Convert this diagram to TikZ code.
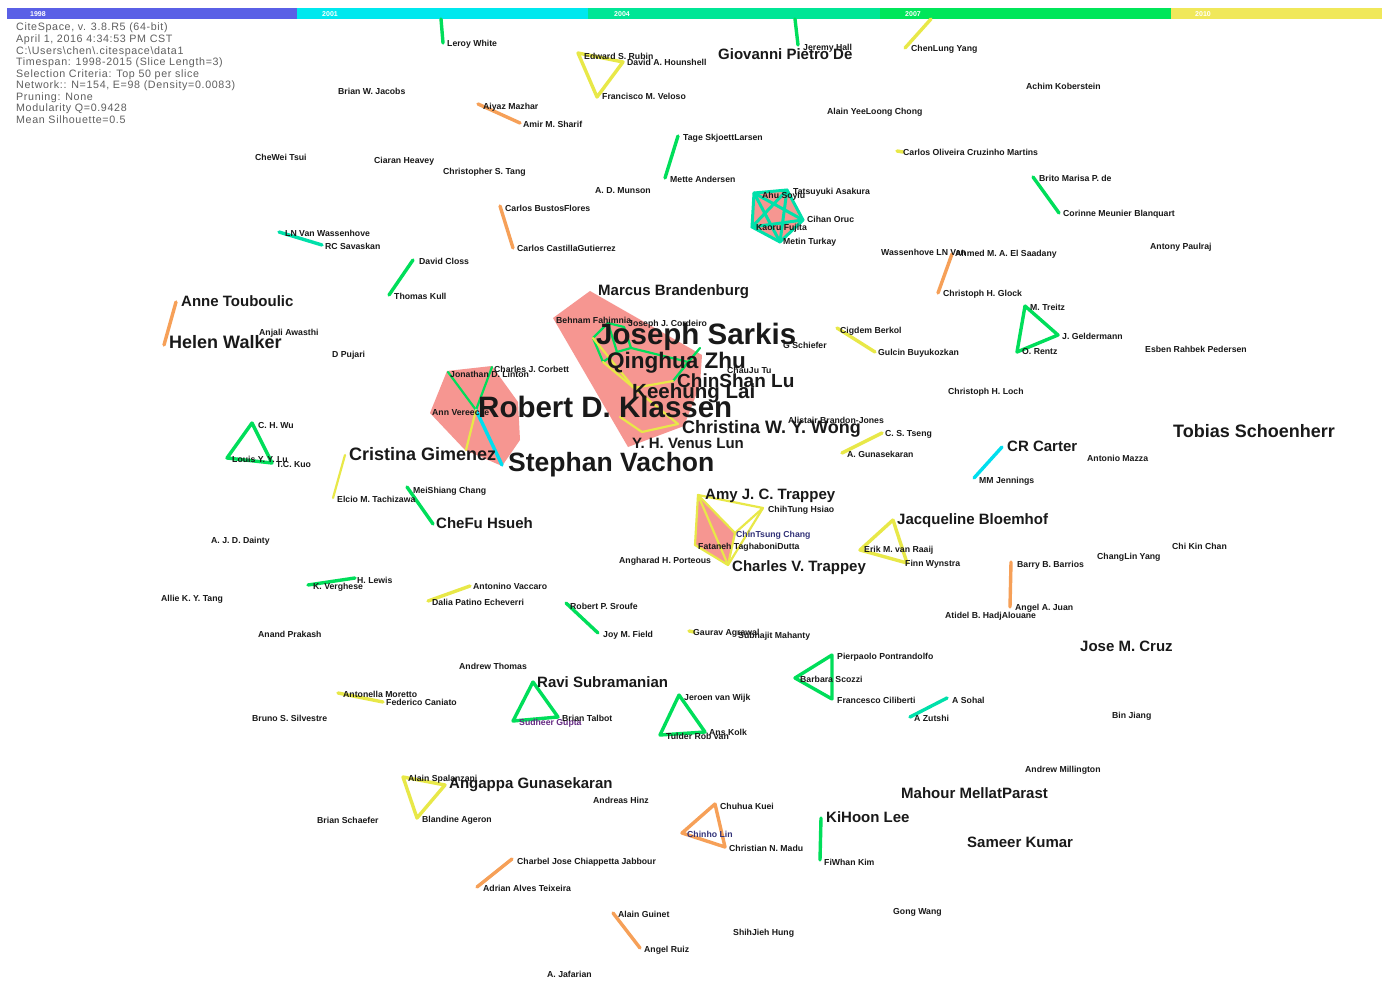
\documentclass[tikz,border=0pt]{standalone}
\usepackage{fontspec}
\setmainfont{Liberation Sans}
\newfontfamily\infofont[LetterSpace=6]{Liberation Sans}
\definecolor{barA}{RGB}{90,96,230}
\definecolor{barB}{RGB}{0,232,238}
\definecolor{barC}{RGB}{0,230,150}
\definecolor{barD}{RGB}{0,230,90}
\definecolor{barE}{RGB}{240,232,90}
\definecolor{cg}{RGB}{0,222,90}
\definecolor{cy}{RGB}{232,232,72}
\definecolor{co}{RGB}{246,160,88}
\definecolor{cc}{RGB}{0,222,238}
\definecolor{ct}{RGB}{0,224,170}
\definecolor{hullpink}{RGB}{246,150,145}
\definecolor{lbl}{RGB}{25,25,25}
\definecolor{infogray}{RGB}{95,95,95}
\definecolor{navyl}{RGB}{50,50,120}
\definecolor{purpl}{RGB}{100,40,130}
\begin{document}
\begin{tikzpicture}[x=1pt,y=-1pt,
  sl/.style={inner sep=0pt, anchor=west, text depth=0pt, text height=6.3pt, font=\bfseries\fontsize{8.7}{9}\selectfont, text=lbl},
  ml/.style={inner sep=0pt, anchor=west, text depth=0pt, text height=10.8pt, font=\bfseries\fontsize{15}{16}\selectfont, text=lbl},
  hA/.style={inner sep=0pt, anchor=west, text depth=0pt, text height=13pt, font=\bfseries\fontsize{18}{19}\selectfont, text=lbl},
  hB/.style={inner sep=0pt, anchor=west, text depth=0pt, text height=13.7pt, font=\bfseries\fontsize{19}{20}\selectfont, text=lbl},
  hC/.style={inner sep=0pt, anchor=west, text depth=0pt, text height=14.8pt, font=\bfseries\fontsize{20.5}{21}\selectfont, text=lbl},
  hD/.style={inner sep=0pt, anchor=west, text depth=0pt, text height=16.2pt, font=\bfseries\fontsize{22.5}{23}\selectfont, text=lbl},
  hE/.style={inner sep=0pt, anchor=west, text depth=0pt, text height=19.1pt, font=\bfseries\fontsize{26.5}{27}\selectfont, text=lbl},
  hF/.style={inner sep=0pt, anchor=west, text depth=0pt, text height=21.2pt, font=\bfseries\fontsize{29.5}{30}\selectfont, text=lbl},
  info/.style={inner sep=0pt, anchor=west, text depth=0pt, text height=7.7pt, font=\infofont\fontsize{10.7}{11}\selectfont, text=infogray},
  yr/.style={inner sep=0pt, font=\bfseries\fontsize{7}{7}\selectfont, text=white},
  ed/.style={line width=3.4pt, line cap=round, line join=round},
  eg/.style={ed, draw=cg}, ey/.style={ed, draw=cy}, eo/.style={ed, draw=co},
  ec/.style={ed, draw=cc}, et/.style={ed, draw=ct},
  thin2/.style={line width=2.2pt}
]
\useasboundingbox (0,0) rectangle (1387,981);
\fill[white] (0,0) rectangle (1387,981);

% ---------- time bar ----------
\fill[barA] (7,8) rectangle (297,19);
\fill[barB] (297,8) rectangle (588,19);
\fill[barC] (588,8) rectangle (880,19);
\fill[barD] (880,8) rectangle (1171,19);
\fill[barE] (1171,8) rectangle (1382,19);
\node[yr] (y1998) at (38,14) {1998};
\node[yr] (y2001) at (330,14) {2001};
\node[yr] (y2004) at (622,14) {2004};
\node[yr] (y2007) at (913,14) {2007};
\node[yr] (y2010) at (1203,14) {2010};

% ---------- info ----------
\node[info] (i1) at (16,27) {CiteSpace, v. 3.8.R5 (64-bit)};
\node[info] (i2) at (16,39) {April 1, 2016 4:34:53 PM CST};
\node[info] (i3) at (16,51) {C:\textbackslash Users\textbackslash chen\textbackslash .citespace\textbackslash data1};
\node[info] (i4) at (16,62) {Timespan: 1998-2015 (Slice Length=3)};
\node[info] (i5) at (16,74) {Selection Criteria: Top 50 per slice};
\node[info] (i6) at (16,85) {Network:: N=154, E=98 (Density=0.0083)};
\node[info] (i7) at (16,97) {Pruning: None};
\node[info] (i8) at (16,108) {Modularity Q=0.9428};
\node[info] (i9) at (16,120) {Mean Silhouette=0.5};

% ---------- coordinates ----------
\coordinate (pLeroyTop) at (441,19); \coordinate (pLeroy) at (443,43);
\coordinate (pRubin) at (578,53); \coordinate (pHouns) at (623,62); \coordinate (pVeloso) at (597,97);
\coordinate (pHallTop) at (795,19); \coordinate (pHall) at (798,45);
\coordinate (pClyTop) at (931,19); \coordinate (pCly) at (905,48);
\coordinate (pMazhar) at (478,104); \coordinate (pSharif) at (520,123);
\coordinate (pTage) at (678,136); \coordinate (pMette) at (665,178);
\coordinate (pBustos) at (500,206); \coordinate (pCastilla) at (513,248);
\coordinate (pOliv) at (897,151); \coordinate (pOlivB) at (903,152);
\coordinate (pBrito) at (1033,177); \coordinate (pCorinne) at (1059,213);
\coordinate (pLnvw) at (279,232); \coordinate (pSava) at (322,245);
\coordinate (pCloss) at (413,260); \coordinate (pKull) at (389,295);
\coordinate (pAnne) at (176,302); \coordinate (pHelen) at (164,345);
\coordinate (pSaadany) at (952,254); \coordinate (pGlock) at (938,293);
\coordinate (pTreitz) at (1025,306); \coordinate (pGelder) at (1058,335); \coordinate (pRentz) at (1017,352);
\coordinate (pCigdem) at (837,328); \coordinate (pGulcin) at (875,352);
\coordinate (pWu) at (252,423); \coordinate (pLu) at (227,458); \coordinate (pKuo) at (272,463);
\coordinate (pGimenez) at (345,455); \coordinate (pTachi) at (333,498);
\coordinate (pMeish) at (407,487); \coordinate (pChefu) at (433,524);
\coordinate (pTseng) at (882,433); \coordinate (pAgun) at (842,453);
\coordinate (pCarter) at (1002,447); \coordinate (pJennings) at (974,478);
\coordinate (pAmy) at (698,495); \coordinate (pHsiao) at (763,508); \coordinate (pCtchang) at (735,533);
\coordinate (pFataneh) at (695,545); \coordinate (pCtrap) at (728,565);
\coordinate (pJacq) at (893,520); \coordinate (pRaaij) at (860,550); \coordinate (pWynstra) at (907,563);
\coordinate (pBarrios) at (1011,562); \coordinate (pJuan) at (1010,607);
\coordinate (pLewis) at (355,578); \coordinate (pVergh) at (308,585);
\coordinate (pVaccaro) at (470,586); \coordinate (pDalia) at (428,601);
\coordinate (pSroufe) at (566,603); \coordinate (pField) at (598,633);
\coordinate (pAgrawal) at (689,631); \coordinate (pAgrawalB) at (694,632);
\coordinate (pMoretto) at (338,693); \coordinate (pCaniato) at (383,702);
\coordinate (pRavi) at (533,682); \coordinate (pGupta) at (513,721); \coordinate (pTalbot) at (558,717);
\coordinate (pJeroen) at (679,695); \coordinate (pTulder) at (660,735); \coordinate (pKolk) at (705,732);
\coordinate (pPierp) at (832,655); \coordinate (pScozzi) at (795,678); \coordinate (pCilib) at (832,699);
\coordinate (pSohal) at (947,698); \coordinate (pZutshi) at (910,717);
\coordinate (pSpal) at (403,777); \coordinate (pAngappa) at (445,785); \coordinate (pAgeron) at (417,818);
\coordinate (pKuei) at (715,804); \coordinate (pChinho) at (682,833); \coordinate (pMadu) at (725,847);
\coordinate (pKihoon) at (821,818); \coordinate (pFiwhan) at (820,860);
\coordinate (pJabbour) at (512,859); \coordinate (pTeixeira) at (477,887);
\coordinate (pGuinet) at (613,913); \coordinate (pRuiz) at (640,948);
% teal cluster
\coordinate (pT1) at (754,193); \coordinate (pT2) at (787,190); \coordinate (pT3) at (803,220);
\coordinate (pT4) at (780,242); \coordinate (pT5) at (752,227);
% Klassen cluster
\coordinate (pLinton) at (448,372); \coordinate (pCorbett) at (492,367); \coordinate (pKlassen) at (476,410);
\coordinate (pVachon) at (502,465); \coordinate (pKG) at (466,450); \coordinate (pAnnV) at (432,412);
% Sarkis cluster
\coordinate (pS1) at (593,338); \coordinate (pS2) at (608,323); \coordinate (pS3) at (624,327);
\coordinate (pS4) at (631,348); \coordinate (pS5) at (603,362); \coordinate (pS6) at (617,352);
\coordinate (pS7) at (673,381); \coordinate (pS8) at (688,362); \coordinate (pS9) at (700,348);
\coordinate (pS10) at (634,388); \coordinate (pS11) at (678,424); \coordinate (pS12) at (620,417);
\coordinate (pS13) at (642,432);

% ---------- hulls ----------
\fill[hullpink] (553,318) -- (590,291) -- (702,355) -- (700,385) -- (684,426) -- (628,447) -- cycle;
\fill[hullpink] (447,371) -- (492,366) -- (518,402) -- (520,440) -- (502,466) -- (465,450) -- (430,413) -- cycle;
\fill[hullpink] (pT1) -- (pT2) -- (pT3) -- (pT4) -- (pT5) -- cycle;
\fill[hullpink] (pAmy) -- (pCtchang) -- (pCtrap) -- (pFataneh) -- cycle;

% ---------- edges ----------
\draw[eg] (pLeroyTop) -- (pLeroy);
\draw[ey] (pRubin) -- (pVeloso) -- (pHouns) -- (pRubin);
\draw[eg] (pHallTop) -- (pHall);
\draw[ey] (pClyTop) -- (pCly);
\draw[eo] (pMazhar) -- (pSharif);
\draw[eg] (pTage) -- (pMette);
\draw[eo] (pBustos) -- (pCastilla);
\draw[ey] (pOliv) -- (pOlivB);
\draw[eg] (pBrito) -- (pCorinne);
\draw[et] (pLnvw) -- (pSava);
\draw[eg] (pCloss) -- (pKull);
\draw[eo] (pAnne) -- (pHelen);
\draw[eo] (pSaadany) -- (pGlock);
\draw[eg] (pTreitz) -- (pGelder) -- (pRentz) -- (pTreitz);
\draw[ey] (pCigdem) -- (pGulcin);
\draw[eg] (pWu) -- (pLu) -- (pKuo) -- (pWu);
\draw[ey, thin2] (pGimenez) -- (pTachi);
\draw[eg] (pMeish) -- (pChefu);
\draw[ey] (pTseng) -- (pAgun);
\draw[ec] (pCarter) -- (pJennings);
\draw[ey, thin2] (pAmy) -- (pHsiao) -- (pCtchang) -- (pAmy);
\draw[ey, thin2] (pAmy) -- (pFataneh) -- (pCtrap) -- (pAmy);
\draw[ey, thin2] (pCtchang) -- (pCtrap);
\draw[ey, thin2] (pHsiao) -- (pCtrap);
\draw[ey] (pJacq) -- (pRaaij) -- (pWynstra) -- (pJacq);
\draw[eo] (pBarrios) -- (pJuan);
\draw[eg] (pLewis) -- (pVergh);
\draw[ey] (pVaccaro) -- (pDalia);
\draw[eg] (pSroufe) -- (pField);
\draw[ey] (pAgrawal) -- (pAgrawalB);
\draw[ey] (pMoretto) -- (pCaniato);
\draw[eg] (pRavi) -- (pGupta) -- (pTalbot) -- (pRavi);
\draw[eg] (pJeroen) -- (pTulder) -- (pKolk) -- (pJeroen);
\draw[eg] (pPierp) -- (pScozzi) -- (pCilib) -- (pPierp);
\draw[et] (pSohal) -- (pZutshi);
\draw[ey] (pSpal) -- (pAgeron) -- (pAngappa) -- (pSpal);
\draw[eo] (pKuei) -- (pChinho) -- (pMadu) -- (pKuei);
\draw[eg] (pKihoon) -- (pFiwhan);
\draw[eo] (pJabbour) -- (pTeixeira);
\draw[eo] (pGuinet) -- (pRuiz);
% teal K5
\draw[et, line width=3pt] (pT1) -- (pT2) -- (pT3) -- (pT4) -- (pT5) -- cycle;
\draw[et, line width=3pt] (pT1) -- (pT3) -- (pT5) -- (pT2) -- (pT4) -- cycle;
% Klassen cluster
\draw[eg, thin2] (pLinton) -- (pKlassen);
\draw[eg, thin2] (pCorbett) -- (pKlassen);
\draw[ec] (pKlassen) -- (pVachon);
\draw[ey, thin2] (pKlassen) -- (pKG);
% Sarkis cluster
\draw[eg, thin2] (pS1) -- (pS2) -- (pS3) -- (pS4) -- (pS6) -- (pS5) -- (pS1);
\draw[eg, thin2] (pS2) -- (pS6);
\draw[eg, thin2] (pS4) -- (pS8);
\draw[eg, thin2] (pS7) -- (pS8) -- (pS9) -- (pS7);
\draw[ey, thin2] (pS1) -- (pS10) -- (pS11);
\draw[ey, thin2] (pS5) -- (pS10) -- (pS7);
\draw[ey, thin2] (pS12) -- (pS13) -- (pS11);

% ---------- small labels ----------
\node[sl] (leroy) at (447,43) {Leroy White};
\node[sl] (rubin) at (584,56) {Edward S. Rubin};
\node[sl] (houns) at (627,62) {David A. Hounshell};
\node[sl] (veloso) at (602,96) {Francisco M. Veloso};
\node[sl] (hall) at (803,47) {Jeremy Hall};
\node[sl] (cly) at (911,48) {ChenLung Yang};
\node[sl] (jacobs) at (338,91) {Brian W. Jacobs};
\node[sl] (mazhar) at (483,106) {Aiyaz Mazhar};
\node[sl] (sharif) at (523,124) {Amir M. Sharif};
\node[sl] (chong) at (827,111) {Alain YeeLoong Chong};
\node[sl] (kober) at (1026,86) {Achim Koberstein};
\node[sl] (tsui) at (255,157) {CheWei Tsui};
\node[sl] (heavey) at (374,160) {Ciaran Heavey};
\node[sl] (stang) at (443,171) {Christopher S. Tang};
\node[sl] (tage) at (683,137) {Tage SkjoettLarsen};
\node[sl] (mette) at (670,179) {Mette Andersen};
\node[sl] (munson) at (595,190) {A. D. Munson};
\node[sl] (oliv) at (903,152) {Carlos Oliveira Cruzinho Martins};
\node[sl] (brito) at (1039,178) {Brito Marisa P. de};
\node[sl] (corinne) at (1063,213) {Corinne Meunier Blanquart};
\node[sl] (ahu) at (762,195) {Ahu Soylu};
\node[sl] (asakura) at (793,191) {Tatsuyuki Asakura};
\node[sl] (oruc) at (807,219) {Cihan Oruc};
\node[sl] (fujita) at (756,227) {Kaoru Fujita};
\node[sl] (turkay) at (783,241) {Metin Turkay};
\node[sl] (lnvw) at (285,233) {LN Van Wassenhove};
\node[sl] (sava) at (325,246) {RC Savaskan};
\node[sl] (bustos) at (505,208) {Carlos BustosFlores};
\node[sl] (castilla) at (517,248) {Carlos CastillaGutierrez};
\node[sl] (wass) at (881,252) {Wassenhove LN Van};
\node[sl] (saadany) at (955,253) {Ahmed M. A. El Saadany};
\node[sl] (antony) at (1150,246) {Antony Paulraj};
\node[sl] (closs) at (419,261) {David Closs};
\node[sl] (kull) at (394,296) {Thomas Kull};
\node[sl] (glock) at (943,293) {Christoph H. Glock};
\node[sl] (treitz) at (1030,307) {M. Treitz};
\node[sl] (gelder) at (1062,336) {J. Geldermann};
\node[sl] (rentz) at (1022,351) {O. Rentz};
\node[sl] (esben) at (1145,349) {Esben Rahbek Pedersen};
\node[sl] (anjali) at (259,332) {Anjali Awasthi};
\node[sl] (pujari) at (332,354) {D Pujari};
\node[sl] (fahim) at (556,320) {Behnam Fahimnia};
\node[sl] (cordeiro) at (628,323) {Joseph J. Cordeiro};
\node[sl] (schiefer) at (783,345) {G Schiefer};
\node[sl] (tu) at (727,370) {ChauJu Tu};
\node[sl] (cigdem) at (840,330) {Cigdem Berkol};
\node[sl] (gulcin) at (878,352) {Gulcin Buyukozkan};
\node[sl] (corbett) at (494,369) {Charles J. Corbett};
\node[sl] (linton) at (450,374) {Jonathan D. Linton};
\node[sl] (annv) at (432,412) {Ann Vereecke};
\node[sl] (loch) at (948,391) {Christoph H. Loch};
\node[sl] (alistair) at (788,420) {Alistair Brandon-Jones};
\node[sl] (tseng) at (885,433) {C. S. Tseng};
\node[sl] (agun) at (847,454) {A. Gunasekaran};
\node[sl] (wu) at (258,425) {C. H. Wu};
\node[sl] (lu) at (232,459) {Louis Y. Y. Lu};
\node[sl] (kuo) at (276,464) {T.C. Kuo};
\node[sl] (mazza) at (1087,458) {Antonio Mazza};
\node[sl] (jennings) at (979,480) {MM Jennings};
\node[sl] (meish) at (413,490) {MeiShiang Chang};
\node[sl] (tachi) at (337,499) {Elcio M. Tachizawa};
\node[sl] (hsiao) at (768,509) {ChihTung Hsiao};
\node[sl, text=navyl] (ctchang) at (736,534) {ChinTsung Chang};
\node[sl] (fataneh) at (698,546) {Fataneh TaghaboniDutta};
\node[sl] (porteous) at (619,560) {Angharad H. Porteous};
\node[sl] (raaij) at (864,549) {Erik M. van Raaij};
\node[sl] (wynstra) at (905,563) {Finn Wynstra};
\node[sl] (dainty) at (211,540) {A. J. D. Dainty};
\node[sl] (chan) at (1172,546) {Chi Kin Chan};
\node[sl] (clyang) at (1097,556) {ChangLin Yang};
\node[sl] (barrios) at (1017,564) {Barry B. Barrios};
\node[sl] (juan) at (1015,607) {Angel A. Juan};
\node[sl] (hadj) at (945,615) {Atidel B. HadjAlouane};
\node[sl] (lewis) at (357,580) {H. Lewis};
\node[sl] (vergh) at (313,586) {K. Verghese};
\node[sl] (atang) at (161,598) {Allie K. Y. Tang};
\node[sl] (vaccaro) at (473,586) {Antonino Vaccaro};
\node[sl] (dalia) at (432,602) {Dalia Patino Echeverri};
\node[sl] (sroufe) at (570,606) {Robert P. Sroufe};
\node[sl] (field) at (603,634) {Joy M. Field};
\node[sl] (agrawal) at (693,632) {Gaurav Agrawal};
\node[sl] (mahanty) at (738,635) {Subhajit Mahanty};
\node[sl] (prakash) at (258,634) {Anand Prakash};
\node[sl] (athomas) at (459,666) {Andrew Thomas};
\node[sl] (pierp) at (837,656) {Pierpaolo Pontrandolfo};
\node[sl] (scozzi) at (800,679) {Barbara Scozzi};
\node[sl] (cilib) at (837,700) {Francesco Ciliberti};
\node[sl] (jeroen) at (684,697) {Jeroen van Wijk};
\node[sl] (tulder) at (666,736) {Tulder Rob van};
\node[sl] (kolk) at (709,732) {Ans Kolk};
\node[sl, text=purpl] (gupta) at (519,722) {Sudheer Gupta};
\node[sl] (talbot) at (562,718) {Brian Talbot};
\node[sl] (moretto) at (343,694) {Antonella Moretto};
\node[sl] (caniato) at (386,702) {Federico Caniato};
\node[sl] (silv) at (252,718) {Bruno S. Silvestre};
\node[sl] (sohal) at (952,700) {A Sohal};
\node[sl] (zutshi) at (914,718) {A Zutshi};
\node[sl] (binj) at (1112,715) {Bin Jiang};
\node[sl] (milling) at (1025,769) {Andrew Millington};
\node[sl] (spal) at (408,778) {Alain Spalanzani};
\node[sl] (ageron) at (422,819) {Blandine Ageron};
\node[sl] (hinz) at (593,800) {Andreas Hinz};
\node[sl] (kuei) at (720,806) {Chuhua Kuei};
\node[sl, text=navyl] (chinho) at (687,834) {Chinho Lin};
\node[sl] (madu) at (729,848) {Christian N. Madu};
\node[sl] (schaefer) at (317,820) {Brian Schaefer};
\node[sl] (fiwhan) at (824,862) {FiWhan Kim};
\node[sl] (jabbour) at (517,861) {Charbel Jose Chiappetta Jabbour};
\node[sl] (teixeira) at (483,888) {Adrian Alves Teixeira};
\node[sl] (guinet) at (618,914) {Alain Guinet};
\node[sl] (ruiz) at (644,949) {Angel Ruiz};
\node[sl] (hung) at (733,932) {ShihJieh Hung};
\node[sl] (jafarian) at (547,974) {A. Jafarian};
\node[sl] (gwang) at (893,911) {Gong Wang};

% ---------- medium labels ----------
\node[ml] (giovanni) at (718,54) {Giovanni Pietro De};
\node[ml] (brand) at (598,290) {Marcus Brandenburg};
\node[ml] (anne) at (181,301) {Anne Touboulic};
\node[ml] (lun) at (632,443) {Y. H. Venus Lun};
\node[ml] (carter) at (1007,446) {CR Carter};
\node[ml] (amy) at (705,494) {Amy J. C. Trappey};
\node[ml] (jacq) at (897,519) {Jacqueline Bloemhof};
\node[ml] (chefu) at (436,523) {CheFu Hsueh};
\node[ml] (ctrap) at (732,566) {Charles V. Trappey};
\node[ml] (cruz) at (1080,646) {Jose M. Cruz};
\node[ml] (ravi) at (537,682) {Ravi Subramanian};
\node[ml] (angappa) at (449,783) {Angappa Gunasekaran};
\node[ml] (mahour) at (901,793) {Mahour MellatParast};
\node[ml] (kihoon) at (826,817) {KiHoon Lee};
\node[ml] (sameer) at (967,842) {Sameer Kumar};

% ---------- large labels ----------
\node[hA] (helen) at (169,342) {Helen Walker};
\node[hA] (tobias) at (1173,431) {Tobias Schoenherr};
\node[hA] (gimenez) at (349,454) {Cristina Gimenez};
\node[hA] (wong) at (682,427) {Christina W. Y. Wong};
\node[hB] (chinshan) at (677,381) {ChinShan Lu};
\node[hC] (keehung) at (632,391) {Keehung Lai};
\node[hD] (qzhu) at (607,360) {Qinghua Zhu};
\node[hF] (sarkis) at (596,334) {Joseph Sarkis};
\node[hF] (klassen) at (478,407) {Robert D. Klassen};
\node[hE] (vachon) at (508,462) {Stephan Vachon};
\end{tikzpicture}
\end{document}
